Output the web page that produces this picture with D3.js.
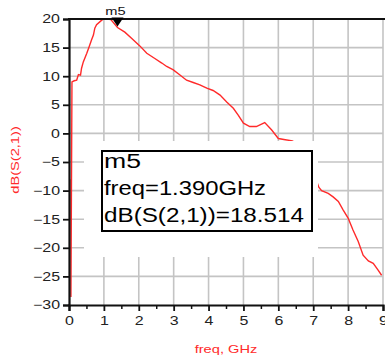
<!DOCTYPE html>
<html><head><meta charset="utf-8">
<script src="https://cdn.jsdelivr.net/npm/d3@7"></script>
<style>
html,body{margin:0;padding:0;background:#fff;}
svg{display:block;font-family:"Liberation Sans",Arial,sans-serif;}
</style></head>
<body>
<svg id="chart" width="385" height="358"></svg>
<script>
// ---- data ----
const freq = [0.06, 0.055, 0.085, 0.15, 0.22, 0.27, 0.33, 0.36, 0.41, 0.51, 0.58, 0.65, 0.70, 0.74, 0.79, 0.94, 0.98, 1.10, 1.20, 1.39, 1.60, 1.80, 2.03, 2.23, 2.46, 2.66, 2.80, 2.99, 3.18, 3.37, 3.56, 3.75, 3.95, 4.13, 4.33, 4.52, 4.71, 4.85, 5.00, 5.18, 5.37, 5.61, 5.81, 6.00, 6.20, 6.40, 6.60, 6.90, 7.16, 7.24, 7.43, 7.57, 7.72, 7.86, 8.00, 8.14, 8.29, 8.43, 8.58, 8.72, 8.86, 8.96];
const s21dB = [-8.0, -28.6, 9.0, 9.2, 9.3, 10.3, 10.2, 11.4, 12.5, 14.0, 15.2, 16.4, 17.2, 18.4, 19.0, 19.8, 20.0, 20.0, 19.9, 18.514, 17.7, 16.6, 15.3, 14.0, 13.1, 12.3, 11.7, 11.1, 10.2, 9.3, 8.9, 8.5, 7.9, 7.5, 6.7, 5.5, 4.4, 3.2, 1.8, 1.2, 1.2, 1.9, 0.6, -0.9, -1.1, -1.3, -2.0, -5.0, -9.4, -10.0, -10.5, -11.1, -11.9, -13.4, -14.8, -16.9, -18.9, -21.3, -22.3, -22.7, -23.9, -24.8];
const xTicks = [0,1,2,3,4,5,6,7,8,9];
const xMinorTicks = [0.5,1.5,2.5,3.5,4.5,5.5,6.5,7.5,8.5];
const yTicks = [-30,-25,-20,-15,-10,-5,0,5,10,15,20];
const markerName = "m5";
const markerFreq = 1.390;
const markerValue = 18.514;
const markerLines = ["m5", "freq=1.390GHz", "dB(S(2,1))=18.514"];
const xTitle = "freq, GHz";
const yTitle = "dB(S(2,1))";

// ---- layout ----
const svg = d3.select("#chart");
const x = d3.scaleLinear().domain([0, 9]).range([69, 383]);
const y = d3.scaleLinear().domain([-30, 20]).range([305, 19]);
const stretch = 1.33;
function widen(sel){ sel.each(function(){ const w=this.getComputedTextLength(); d3.select(this).attr("textLength", w*stretch).attr("lengthAdjust","spacingAndGlyphs"); }); }

// grid
const grid = svg.append("g").attr("stroke", "#c4c4c4").attr("stroke-width", 1.6);
grid.selectAll("line.v").data(xTicks.filter(d => d > 0)).join("line")
  .attr("x1", d => x(d)).attr("x2", d => x(d)).attr("y1", y(20)).attr("y2", y(-30));
grid.selectAll("line.h").data(yTicks.filter(d => d > -30 && d < 20)).join("line")
  .attr("x1", x(0)).attr("x2", x(9)).attr("y1", d => y(d)).attr("y2", d => y(d));

// curve
const line = d3.line().x((d, i) => x(freq[i])).y(d => y(d));
svg.append("path").datum(s21dB).attr("d", line)
  .attr("fill", "none").attr("stroke", "#ff2a2a").attr("stroke-width", 1.4);

// white clearance around marker box
svg.append("rect").attr("x", 84).attr("y", 141).attr("width", 234).attr("height", 116).attr("fill", "#fff");

// axes
const xAxis = svg.append("g").attr("transform", `translate(0,${y(-30)})`)
  .call(d3.axisBottom(x).tickValues(xTicks).tickSize(6).tickPadding(5).tickFormat(d3.format("d")));
svg.append("g").attr("transform", `translate(0,${y(-30)})`)
  .call(d3.axisBottom(x).tickValues(xMinorTicks).tickSize(4).tickFormat(""))
  .call(g => g.select(".domain").remove())
  .selectAll("line").attr("stroke", "#111").attr("stroke-width", 1.5);
const yAxis = svg.append("g").attr("transform", `translate(${x(0)},0)`)
  .call(d3.axisLeft(y).tickValues(yTicks).tickSize(6).tickPadding(3).tickFormat(d3.format("d")));
[xAxis, yAxis].forEach(g => {
  g.select(".domain").attr("stroke", "#111").attr("stroke-width", 2.2);
  g.selectAll(".tick line").attr("stroke", "#111").attr("stroke-width", 1.8);
  g.selectAll("text").attr("font-size", 12).attr("fill", "#222").attr("font-family", "'Liberation Sans',Arial,sans-serif").call(widen);
});
// top border
svg.append("line").attr("x1", x(0) - 1).attr("x2", 385).attr("y1", y(20)).attr("y2", y(20))
  .attr("stroke", "#111").attr("stroke-width", 2.2);

// marker
const mx = x(markerFreq), my = y(markerValue);
svg.append("path").attr("d", `M${mx},${my - 1}L${mx - 6},${my - 10}L${mx + 6},${my - 10}Z`).attr("fill", "#000");
svg.append("text").attr("x", mx - 2).attr("y", 15).attr("text-anchor", "middle")
  .attr("font-size", 11).attr("fill", "#111").text(markerName).call(widen);

// marker readout box
svg.append("rect").attr("x", 102).attr("y", 151).attr("width", 210).attr("height", 80)
  .attr("fill", "#fff").attr("stroke", "#000").attr("stroke-width", 2);
const baselines = [168, 195, 222];
const widths = [37, 162, 200];
svg.selectAll("text.box").data(markerLines).join("text").attr("class", "box")
  .attr("x", 104).attr("y", (d, i) => baselines[i]).attr("font-size", 20).attr("fill", "#000")
  .attr("textLength", (d, i) => widths[i]).attr("lengthAdjust", "spacingAndGlyphs").text(d => d);

// titles
svg.append("text").attr("transform", "translate(19,160) rotate(-90)").attr("text-anchor", "middle")
  .attr("font-size", 11).attr("fill", "#ff2a2a").text(yTitle).call(widen);
svg.append("text").attr("x", 226).attr("y", 353).attr("text-anchor", "middle")
  .attr("font-size", 11).attr("fill", "#ff2a2a").text(xTitle).call(widen);
</script>
</body></html>
